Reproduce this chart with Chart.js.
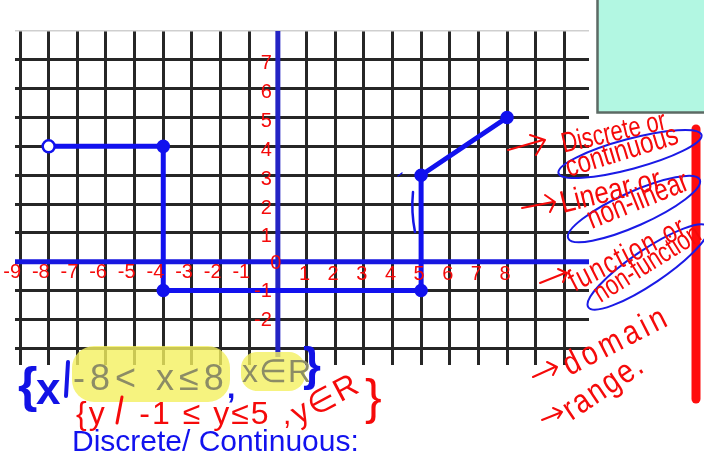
<!DOCTYPE html>
<html>
<head>
<meta charset="utf-8">
<script src="https://cdn.jsdelivr.net/npm/chart.js@4.4.1/dist/chart.umd.min.js"></script>
<style>
  html, body { margin: 0; padding: 0; background: #fff; }
  #wrap { position: relative; width: 704px; height: 461px; overflow: hidden; font-family: 'Liberation Sans', Arial, sans-serif; }
  #graph, #ink { position: absolute; left: 0; top: 0; }
  #ink { pointer-events: none; }
  .note { position: absolute; white-space: nowrap; line-height: 1; transform-origin: 0 85%; }
  .red { color: #f50a0a; }
  .blue { color: #1212e6; font-weight: bold; }
  .dim { color: #8c8c66; }
</style>
</head>
<body>
<div id="wrap">
  <canvas id="graph" width="704" height="461"></canvas>

  <svg id="ink" width="704" height="461">
    <!-- panel in the top corner -->
    <rect x="597.5" y="-3" width="110" height="115.5" fill="#b2f7e2" stroke="#5c6a64" stroke-width="2.5"/>
    <!-- highlighter behind the domain -->
    <g fill="#f4f060" opacity="0.8">
      <rect x="72" y="346" width="158" height="56" rx="22"/>
      <rect x="241" y="352" width="64" height="39" rx="16"/>
    </g>
    <!-- margin bar -->
    <line x1="696" y1="129" x2="696" y2="399" stroke="#ff0d0d" stroke-width="9" stroke-linecap="round"/>
    <!-- circled answers -->
    <g fill="none" stroke="#1a1ae6" stroke-width="2">
      <ellipse cx="630" cy="154" rx="74" ry="15" transform="rotate(-15 630 154)"/>
      <ellipse cx="634" cy="209" rx="72" ry="17" transform="rotate(-24 634 209)"/>
      <ellipse cx="648" cy="267" rx="72" ry="17" transform="rotate(-34 648 267)"/>
    </g>
    <!-- arrows pointing at the questions -->
    <g fill="none" stroke="#f50a0a" stroke-width="2" stroke-linecap="round" stroke-linejoin="round">
      <path d="M508 150 L543 140 M530 135 L545 140 L536 155"/>
      <path d="M522 208 L553 202 M545 195 L555 202 L550 212"/>
      <path d="M540 283 L565 273 M558 269 L567 273 L563 282"/>
      <path d="M533 377 L555 367 M547 362 L557 367 L553 375"/>
      <path d="M542 420 L562 412 M553 408 L562 412 L558 418"/>
    </g>
    <!-- pen strokes -->
    <g fill="none" stroke="#1414e6" stroke-linecap="round">
      <path d="M413 192 Q411 212 415 232" stroke-width="2.5"/>
      <path d="M398 176 L402 173" stroke-width="1.5"/>
      <path d="M68 362 L66 396" stroke-width="4"/>
    </g>
    <path d="M122 397 L117 423" fill="none" stroke="#f50a0a" stroke-width="3" stroke-linecap="round"/>
  </svg>

  <!-- questions on the right -->
  <div class="note red" style="left:564px; top:135px; font-size:22px; transform:rotate(-13deg) scale(1,1.3)">Discrete or</div>
  <div class="note red" style="left:569px; top:157px; font-size:24px; transform:rotate(-17deg) scale(1,1.25)">continuous</div>
  <div class="note red" style="left:563px; top:191px; font-size:26px; transform:rotate(-14deg) scale(1,1.2)">Linear or</div>
  <div class="note red" style="left:592px; top:209px; font-size:24px; transform:rotate(-22deg) scale(1,1.3)">non-linear</div>
  <div class="note red" style="left:575px; top:272px; font-size:24px; letter-spacing:1.5px; transform:rotate(-27deg) scale(1,1.3)">function or</div>
  <div class="note red" style="left:601px; top:285px; font-size:22px; transform:rotate(-32deg) scale(1,1.3)">non-function</div>
  <div class="note red" style="left:570px; top:353px; font-size:28px; letter-spacing:4px; transform:rotate(-27deg) scale(1,1.2)">domain</div>
  <div class="note red" style="left:572px; top:398px; font-size:28px; letter-spacing:2px; transform:rotate(-34deg) scale(1,1.2)">range.</div>

  <!-- domain and range -->
  <div class="note blue" style="left:18px; top:360px; font-size:50px;">{</div>
  <div class="note blue" style="left:36px; top:367px; font-size:44px;">x</div>
  <div class="note dim" style="left:73px; top:360px; font-size:36px; letter-spacing:5px;">-8&lt; x≤8</div>
  <div class="note blue" style="left:227px; top:373px; font-size:30px;">,</div>
  <div class="note dim" style="left:242px; top:355px; font-size:32px; letter-spacing:1px;">x∈R</div>
  <div class="note blue" style="left:303px; top:341px; font-size:46px;">}</div>

  <div class="note red" style="left:76px; top:397px; font-size:32px; letter-spacing:2px;">{y&nbsp;&nbsp;&nbsp;-1 ≤ y≤5</div>
  <div class="note red" style="left:283px; top:399px; font-size:30px;">,</div>
  <div class="note red" style="left:298px; top:398px; font-size:32px; letter-spacing:2px; transform:rotate(-28deg)">y∈R</div>
  <div class="note red" style="left:365px; top:372px; font-size:50px;">}</div>

  <div class="note" style="left:72px; top:426px; font-size:30px; color:#1212ee;">Discrete/ Continuous:</div>
</div>

<script>
// grid lines (one per unit) and the hand-written axis numbers
const xGrid = [-9, -8, -7, -6, -5, -4, -3, -2, -1, 0, 1, 2, 3, 4, 5, 6, 7, 8, 9, 10];
const yGrid = [-3, -2, -1, 0, 1, 2, 3, 4, 5, 6, 7, 8];
const xLabels = [-9, -8, -7, -6, -5, -4, -3, -2, -1, 0, 1, 2, 3, 4, 5, 6, 7, 8];
const yLabels = [7, 6, 5, 4, 3, 2, 1, -1, -2];

// the piecewise graph, traced left to right
const pathX = [-8, -4, -4, 5, 5, 8];
const pathY = [4, 4, -1, -1, 3, 5];
const endpointIncluded = [false, true, true, true, true, true];

const PEN = '#1111ee';
const RED = '#f50a0a';

// blue x and y axes through the origin
const axesPlugin = {
  id: 'axes',
  beforeDatasetsDraw(chart) {
    const { ctx, chartArea: a, scales: { x, y } } = chart;
    const x0 = x.getPixelForValue(0);
    const y0 = y.getPixelForValue(0);
    ctx.save();
    ctx.lineWidth = 5;
    ctx.strokeStyle = '#1717e0';
    ctx.beginPath();
    ctx.moveTo(a.left, y0);
    ctx.lineTo(a.right, y0);
    ctx.stroke();
    ctx.strokeStyle = '#2424c4';
    ctx.beginPath();
    ctx.moveTo(x0, a.top);
    ctx.lineTo(x0, a.bottom - 8);
    ctx.stroke();
    ctx.restore();
  }
};

// red numbers written along the axes
const numbersPlugin = {
  id: 'numbers',
  afterDatasetsDraw(chart) {
    const { ctx, scales: { x, y } } = chart;
    const x0 = x.getPixelForValue(0);
    const y0 = y.getPixelForValue(0);
    ctx.save();
    ctx.fillStyle = RED;
    ctx.font = '20px "Liberation Sans", Arial, sans-serif';
    ctx.textBaseline = 'middle';
    xLabels.forEach(v => {
      const px = x.getPixelForValue(v);
      if (v === 0) {
        ctx.textAlign = 'center';
        ctx.fillText('0', px - 2, y0 + 2);
      } else if (v < 0) {
        ctx.textAlign = 'right';
        ctx.fillText(String(v), px + 1, y0 + 11);
      } else {
        ctx.textAlign = 'center';
        ctx.fillText(String(v), px - 2, y0 + 13);
      }
    });
    ctx.textAlign = 'right';
    yLabels.forEach(v => {
      ctx.fillText(String(v), x0 - 6, y.getPixelForValue(v) + (v > 0 ? 4 : 1));
    });
    ctx.restore();
  }
};

const gridLine = (edgeValue) => ({
  drawTicks: false,
  lineWidth: c => (c.tick && c.tick.value === edgeValue ? 1.5 : 3),
  color: c => {
    if (!c.tick) return 'transparent';
    if (c.tick.value === 0) return 'transparent';
    if (c.tick.value === edgeValue) return '#cfcfcf';
    return '#262626';
  }
});

new Chart(document.getElementById('graph'), {
  type: 'scatter',
  data: {
    datasets: [{
      data: pathX.map((px, i) => ({ x: px, y: pathY[i] })),
      showLine: true,
      borderColor: PEN,
      borderWidth: 5,
      tension: 0,
      pointRadius: c => (endpointIncluded[c.dataIndex] ? 5.5 : 6),
      pointBorderWidth: 2.5,
      pointBorderColor: PEN,
      pointBackgroundColor: c => (endpointIncluded[c.dataIndex] ? PEN : '#fff')
    }]
  },
  options: {
    responsive: false,
    animation: false,
    events: [],
    layout: { padding: { left: 15, right: 115, top: 31, bottom: 96 } },
    plugins: { legend: { display: false }, tooltip: { enabled: false } },
    scales: {
      x: {
        type: 'linear',
        min: -9.175,
        max: 10.86,
        afterBuildTicks: s => { s.ticks = xGrid.map(v => ({ value: v })); },
        ticks: { display: false },
        border: { display: false },
        grid: gridLine(null)
      },
      y: {
        type: 'linear',
        min: -3.58,
        max: 8,
        afterBuildTicks: s => { s.ticks = yGrid.map(v => ({ value: v })); },
        ticks: { display: false },
        border: { display: false },
        grid: gridLine(8)
      }
    }
  },
  plugins: [axesPlugin, numbersPlugin]
});
</script>
</body>
</html>
